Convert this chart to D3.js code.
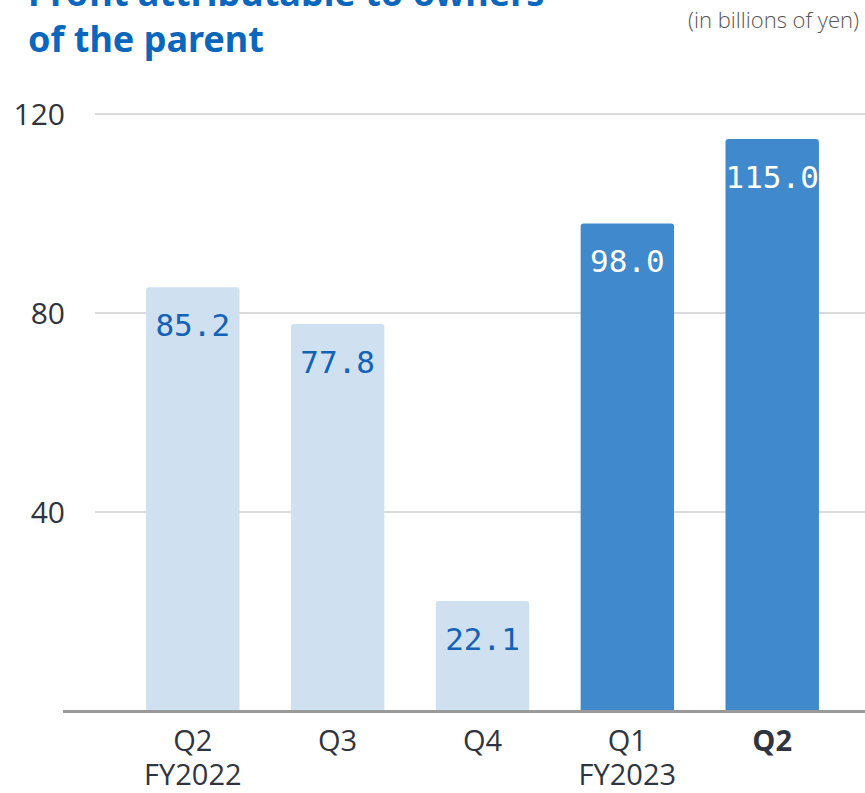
<!DOCTYPE html>
<html>
<head>
<meta charset="utf-8">
<script src="https://cdn.jsdelivr.net/npm/d3@7"></script>
<style>
  body { margin: 0; background: #fff; }
  svg { display: block; }
</style>
</head>
<body>
<div id="chart"></div>
<script>
// data
var quarters = ["Q2", "Q3", "Q4", "Q1", "Q2"];
var fiscalYears = ["FY2022", "", "", "FY2023", ""];
var profits = [85.2, 77.8, 22.1, 98.0, 115.0];
var yTicks = [40, 80, 120];

var W = 865, H = 793;
var svg = d3.select("#chart").append("svg")
    .attr("width", W)
    .attr("height", H);

// title (first line runs off the top, as in the source)
var title = svg.append("text")
    .attr("x", 28)
    .attr("fill", "#0b66bd")
    .attr("font-family", "'Noto Sans', sans-serif")
    .attr("font-weight", "bold")
    .attr("font-size", 36);
title.append("tspan").attr("x", 28).attr("y", 6).text("Profit attributable to owners");
title.append("tspan").attr("x", 28).attr("y", 52).text("of the parent");

svg.append("text")
    .attr("x", 859)
    .attr("y", 28)
    .attr("text-anchor", "end")
    .attr("fill", "#555")
    .attr("font-family", "'Open Sans', sans-serif")
    .attr("font-weight", 300)
    .attr("font-size", 22)
    .text("(in billions of yen)");

// scales
var x = d3.scaleBand()
    .domain(d3.range(quarters.length))
    .range([120, 845])
    .paddingInner(0.355)
    .paddingOuter(0.18);

var y = d3.scaleLinear()
    .domain([0, 120])
    .range([711, 114]);

// grid
svg.selectAll(".grid")
    .data(yTicks)
    .enter().append("line")
    .attr("class", "grid")
    .attr("x1", 95)
    .attr("x2", W)
    .attr("y1", function (d) { return y(d); })
    .attr("y2", function (d) { return y(d); })
    .attr("stroke", "#cfcfcf")
    .attr("stroke-width", 1.5);

svg.selectAll(".ylab")
    .data(yTicks)
    .enter().append("text")
    .attr("class", "ylab")
    .attr("x", 65)
    .attr("y", function (d) { return y(d); })
    .attr("dy", "0.38em")
    .attr("text-anchor", "end")
    .attr("fill", "#2f3540")
    .attr("font-family", "'Open Sans', sans-serif")
    .attr("font-size", 30)
    .text(function (d) { return d; });

// bars with rounded top corners
function barPath(i, v) {
    var x0 = x(i), w = x.bandwidth(), y0 = y(v), y1 = y(0), r = 3;
    return "M" + x0 + "," + y1 +
        "V" + (y0 + r) +
        "Q" + x0 + "," + y0 + " " + (x0 + r) + "," + y0 +
        "H" + (x0 + w - r) +
        "Q" + (x0 + w) + "," + y0 + " " + (x0 + w) + "," + (y0 + r) +
        "V" + y1 + "Z";
}

svg.selectAll(".bar")
    .data(profits)
    .enter().append("path")
    .attr("class", "bar")
    .attr("d", function (d, i) { return barPath(i, d); })
    .attr("fill", function (d, i) { return i < 3 ? "#cfe0f1" : "#4089cc"; });

svg.selectAll(".amount")
    .data(profits)
    .enter().append("text")
    .attr("class", "amount")
    .attr("x", function (d, i) { return x(i) + x.bandwidth() / 2; })
    .attr("y", function (d) { return y(d) + 49; })
    .attr("text-anchor", "middle")
    .attr("font-family", "'DejaVu Sans Mono', monospace")
    .attr("font-size", 31)
    .attr("fill", function (d, i) { return i < 3 ? "#1462b5" : "#fff"; })
    .text(function (d) { return d.toFixed(1); });

// baseline
svg.append("line")
    .attr("x1", 63)
    .attr("x2", W)
    .attr("y1", y(0) + 0.5)
    .attr("y2", y(0) + 0.5)
    .attr("stroke", "#9a9a9a")
    .attr("stroke-width", 3);

// x labels
var xl = svg.selectAll(".xlab")
    .data(quarters)
    .enter().append("text")
    .attr("class", "xlab")
    .attr("text-anchor", "middle")
    .attr("fill", "#2f3540")
    .attr("font-family", "'Open Sans', sans-serif")
    .attr("font-size", 29)
    .attr("font-weight", function (d, i) { return i === quarters.length - 1 ? "bold" : "normal"; });
xl.append("tspan")
    .attr("x", function (d, i) { return x(i) + x.bandwidth() / 2; })
    .attr("y", 751)
    .text(function (d) { return d; });
xl.append("tspan")
    .attr("x", function (d, i) { return x(i) + x.bandwidth() / 2; })
    .attr("y", 785)
    .text(function (d, i) { return fiscalYears[i]; });
</script>
</body>
</html>
